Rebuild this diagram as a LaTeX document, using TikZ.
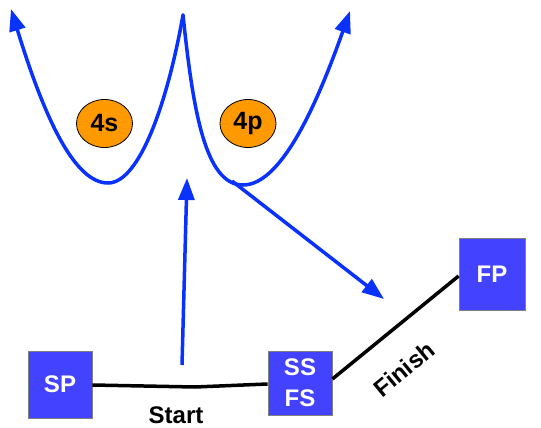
\documentclass[tikz,border=0pt]{standalone}
\usepackage{fontspec}
\setmainfont{Liberation Sans}
\usetikzlibrary{arrows.meta}
\definecolor{arrowblue}{RGB}{10,50,255}
\definecolor{boxblue}{RGB}{66,66,255}
\definecolor{orb}{RGB}{255,153,0}
\tikzset{
  bluearrow/.style={draw=arrowblue, line width=3.5pt, -{Triangle[length=22pt,width=16pt]}},
  orbital/.style={ellipse, draw=black, line width=0.8pt, fill=orb, minimum width=56pt, minimum height=48pt, inner sep=0pt, font=\bfseries\fontsize{25}{28}\selectfont},
  statebox/.style={rectangle, draw=gray, line width=0.8pt, fill=boxblue, text=white, inner sep=0pt, font=\bfseries\fontsize{24}{28}\selectfont, align=center},
  link/.style={draw=black, line width=3.5pt},
  lbl/.style={font=\bfseries\fontsize{24}{28}\selectfont, inner sep=0pt}
}
\usetikzlibrary{shapes.geometric}
\begin{document}
\begin{tikzpicture}[x=1pt,y=-1pt]
\useasboundingbox (0,0) rectangle (541,428);
% orbitals
\node[orbital] (s4) at (104.5,123.5) {4s};
\node[orbital] (p4) at (248,123.5) {4p};
% curves
\coordinate (ltip) at (11,9);
\coordinate (lmin) at (108,183);
\coordinate (peak) at (183,15);
\coordinate (rmin) at (243,185);
\coordinate (rtip) at (350,11);
\draw[bluearrow, {Triangle[length=22pt,width=16pt]}-, line cap=round] (ltip) .. controls (45,120) and (75,183) .. (lmin) .. controls (140,183) and (168,100) .. (peak);
\draw[bluearrow, line cap=round] (peak) .. controls (193,110) and (205,185) .. (rmin) .. controls (280,185) and (315,110) .. (rtip);
% boxes
\node[statebox, minimum width=64pt, minimum height=67pt] (sp) at (60,384.5) {SP};
\node[statebox, minimum width=64pt, minimum height=64pt] (ssfs) at (300,383) {SS\\[3pt]FS};
\node[statebox, minimum width=66pt, minimum height=72pt] (fp) at (492,274) {FP};
% arrows
\coordinate (upstart) at (182,365);
\coordinate (uptip) at (187,178);
\draw[bluearrow] (upstart) -- (uptip);
\coordinate (dstart) at (232,181);
\coordinate (dtip) at (384,299);
\draw[bluearrow] (dstart) -- (dtip);
% links
\coordinate (bend) at (195,387);
\draw[link] (sp.east |- 0,385) -- (bend) -- (ssfs.west |- 0,384);
\draw[link] (ssfs.east |- 0,379) -- (fp.west |- 0,276);
\node[lbl, anchor=base] (start) at (176,423) {Start};
\node[lbl, rotate=39.5] (finish) at (404,369) {Finish};
\end{tikzpicture}
\end{document}
